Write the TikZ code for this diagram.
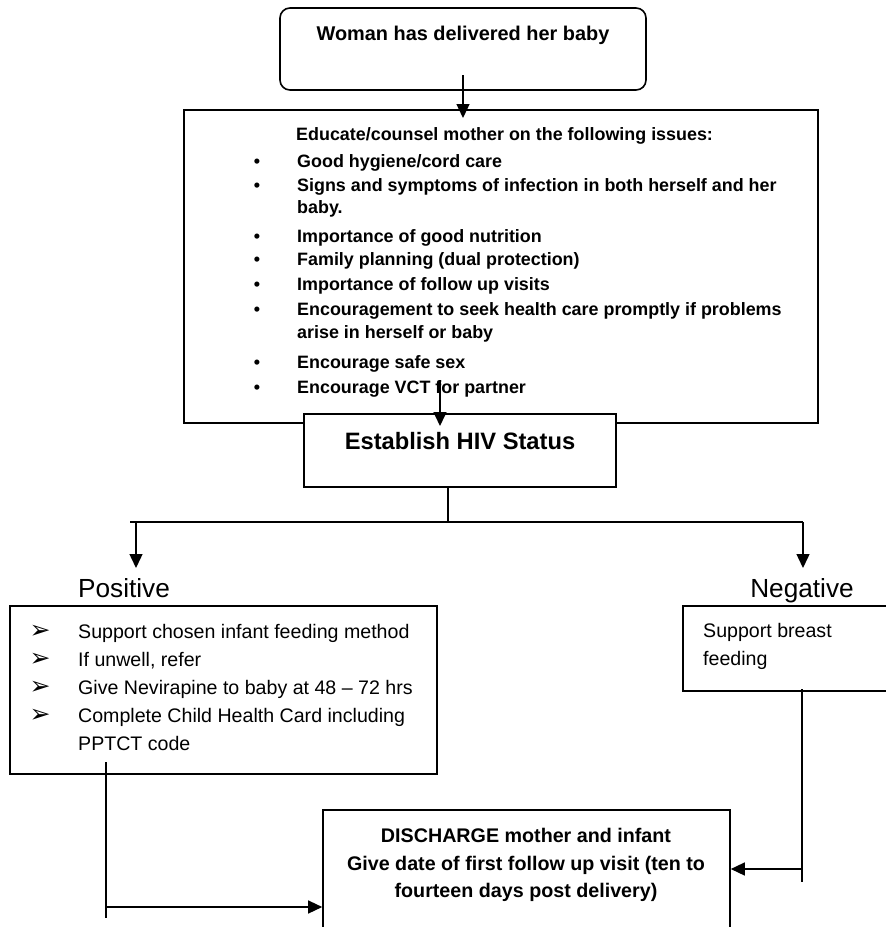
\documentclass[tikz,border=0pt]{standalone}
\usepackage{fontspec}
\setmainfont{Liberation Sans}
\newfontfamily\dejavu{DejaVu Sans}
\usetikzlibrary{arrows.meta}
\newcommand{\fTop}{\fontsize{19.9}{24}\selectfont\bfseries}
\newcommand{\fList}{\fontsize{17.9}{21}\selectfont\bfseries}
\newcommand{\fHiv}{\fontsize{23.7}{28}\selectfont\bfseries}
\newcommand{\fLab}{\fontsize{26.2}{31}\selectfont}
\newcommand{\fBody}{\fontsize{19.6}{24}\selectfont}
\newcommand{\fDis}{\fontsize{19.7}{24}\selectfont\bfseries}
\begin{document}
\begin{tikzpicture}[x=1pt,y=-1pt,
  box/.style={draw, line width=1.6pt, inner sep=0pt},
  conn/.style={line width=1.4pt},
  arr/.style={conn, -{Triangle[length=14pt,width=13pt]}},
  txt/.style={inner sep=0pt, anchor=mid west, yshift=-4.5pt},
  ctxt/.style={inner sep=0pt, anchor=mid, yshift=-4.5pt},
  bul/.style={inner sep=0pt, anchor=mid, yshift=-4.5pt}]
\useasboundingbox (0,0) rectangle (886,927);
\clip (0,0) rectangle (886,927);

% boxes
\node[box, rounded corners=10pt, minimum width=366pt, minimum height=82pt] (top) at (463,49) {};
\node[box, minimum width=634pt, minimum height=313pt] (edu) at (501,266.5) {};
\node[box, fill=white, minimum width=312pt, minimum height=73pt] (hiv) at (460,450.5) {};
\node[box, minimum width=427pt, minimum height=168pt] (pos) at (223.5,690) {};
\node[box, minimum width=209pt, minimum height=85pt] (neg) at (787.5,648.5) {};
\node[box, minimum width=407pt, minimum height=135pt] (dis) at (526.5,877.5) {};

% texts
\node[ctxt] (ttop) at (463,33) {\fTop Woman has delivered her baby};
\node[txt] (e0) at (296,133) {\fList Educate/counsel mother on the following issues:};
\foreach \y/\n in {160/b1,184/b2,235/b3,258/b4,283/b5,308/b6,361/b7,386/b8}
  \node[bul] (\n) at (257,\y) {\fList •};
\node[txt] (e1) at (297,160) {\fList Good hygiene/cord care};
\node[txt] (e2) at (297,184) {\fList Signs and symptoms of infection in both herself and her};
\node[txt] (e2b) at (297,206) {\fList baby.};
\node[txt] (e3) at (297,235) {\fList Importance of good nutrition};
\node[txt] (e4) at (297,258) {\fList Family planning (dual protection)};
\node[txt] (e5) at (297,283) {\fList Importance of follow up visits};
\node[txt] (e6) at (297,308) {\fList Encouragement to seek health care promptly if problems};
\node[txt] (e6b) at (297,331) {\fList arise in herself or baby};
\node[txt] (e7) at (297,361) {\fList Encourage safe sex};
\node[txt] (e8) at (297,386) {\fList Encourage VCT for partner};

\node[ctxt] (thiv) at (460,442) {\fHiv Establish HIV Status};
\node[ctxt] (lpos) at (124,590) {\fLab Positive};
\node[ctxt] (lneg) at (802,590) {\fLab Negative};

\foreach \y/\n in {631/a1,659/a2,687/a3,715/a4}
  \node[bul] (\n) at (40,\y) {\fontsize{25}{28}\selectfont\dejavu ➢};
\node[txt] (p1) at (78,631) {\fBody Support chosen infant feeding method};
\node[txt] (p2) at (78,659) {\fBody If unwell, refer};
\node[txt] (p3) at (78,687) {\fBody Give Nevirapine to baby at 48 – 72 hrs};
\node[txt] (p4) at (78,715) {\fBody Complete Child Health Card including};
\node[txt] (p4b) at (78,743) {\fBody PPTCT code};

\node[txt] (n1) at (703,630) {\fBody Support breast};
\node[txt] (n1b) at (703,658) {\fBody feeding};

\node[ctxt] (d1) at (526,835) {\fDis DISCHARGE mother and infant};
\node[ctxt] (d2) at (526,863) {\fDis Give date of first follow up visit (ten to};
\node[ctxt] (d3) at (526,890) {\fDis fourteen days post delivery)};

% connector coordinates
\coordinate (c1s) at (463,75);
\coordinate (c1e) at (463,118);
\coordinate (c2s) at (440,380);
\coordinate (c2e) at (440,426);
\coordinate (stemS) at (448,487);
\coordinate (stemE) at (448,522);
\coordinate (brL) at (130,522);
\coordinate (brR) at (803,522);
\coordinate (aL) at (136,522);
\coordinate (aLe) at (136,568);
\coordinate (aRe) at (803,568);
\coordinate (lv1) at (106,762);
\coordinate (lv2) at (106,918);
\coordinate (lh) at (106,907);
\coordinate (rv1) at (802,689);
\coordinate (rv2) at (802,882);
\coordinate (rh) at (802,869);

% connectors
\draw[arr] (c1s) -- (c1e);
\draw[arr] (c2s) -- (c2e);
\draw[conn] (stemS) -- (stemE);
\draw[conn] (brL) -- (brR);
\draw[arr] (aL) -- (aLe);
\draw[arr] (brR) -- (aRe);
\draw[conn] (lv1) -- (lv2);
\draw[arr] (lh) -- (lh -| dis.west);
\draw[conn] (rv1) -- (rv2);
\draw[arr] (rh) -- (rh -| dis.east);
\end{tikzpicture}
\end{document}
